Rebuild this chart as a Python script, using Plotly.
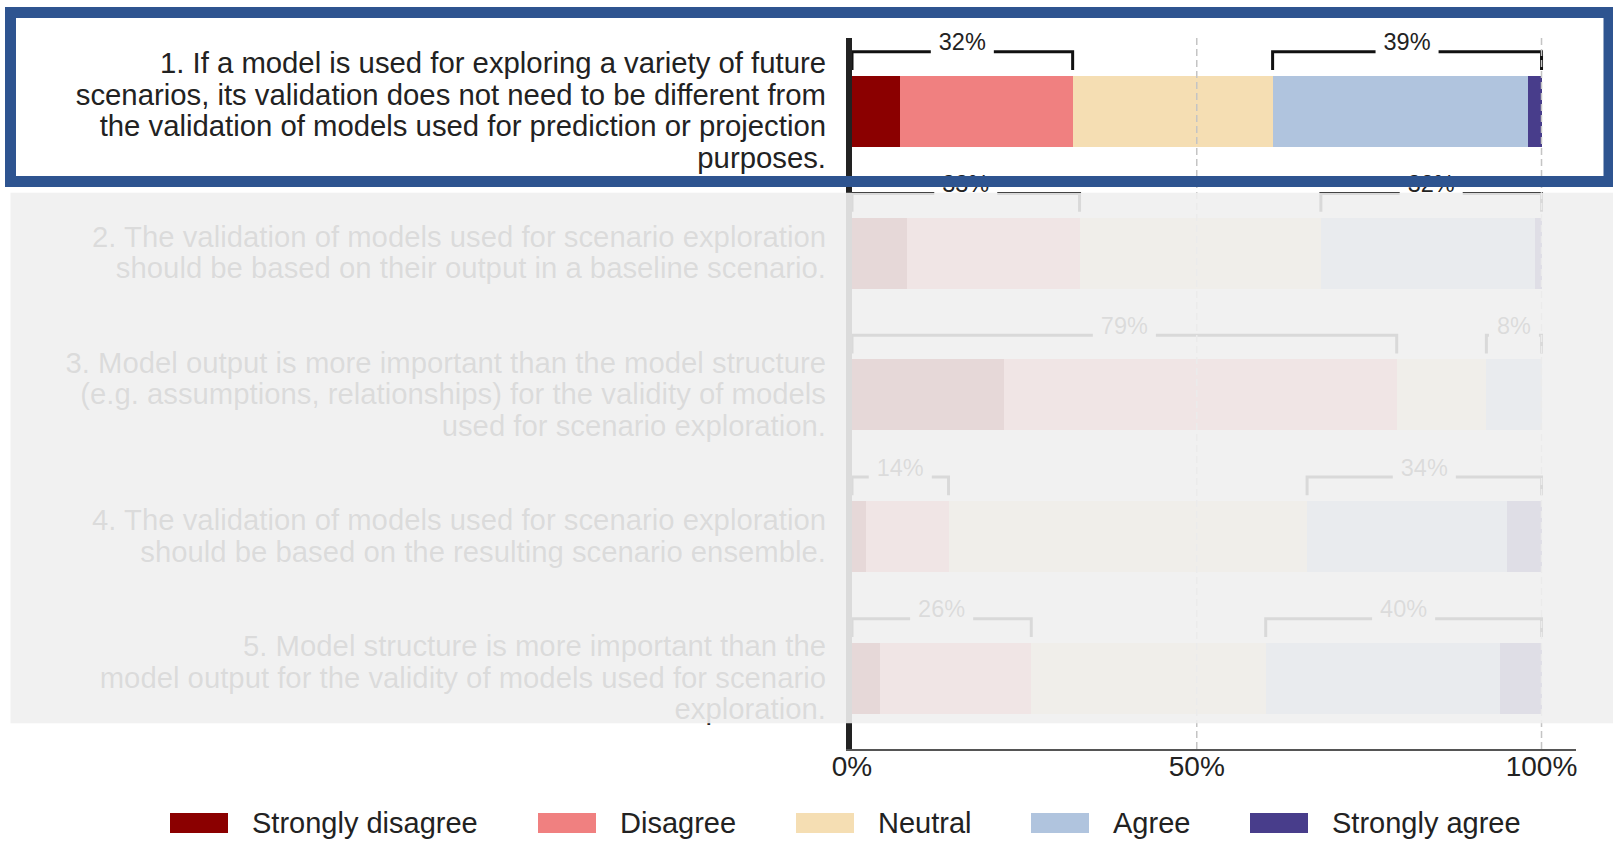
import plotly.graph_objects as go

# ---------------- data ----------------
statements = [
    ["1. If a model is used for exploring a variety of future",
     "scenarios, its validation does not need to be different from",
     "the validation of models used for prediction or projection",
     "purposes."],
    ["2. The validation of models used for scenario exploration",
     "should be based on their output in a baseline scenario."],
    ["3. Model output is more important than the model structure",
     "(e.g. assumptions, relationships) for the validity of models",
     "used for scenario exploration."],
    ["4. The validation of models used for scenario exploration",
     "should be based on the resulting scenario ensemble."],
    ["5. Model structure is more important than the",
     "model output for the validity of models used for scenario",
     "exploration."],
]
categories = ["Strongly disagree", "Disagree", "Neutral", "Agree", "Strongly agree"]
strongly_disagree = [7, 8, 22, 2, 4]
disagree = [25, 25, 57, 12, 22]
neutral = [29, 35, 13, 52, 34]
agree = [37, 31, 8, 29, 34]
strongly_agree = [2, 1, 0, 5, 6]
tick_vals = [0, 50, 100]
tick_text = ["0%", "50%", "100%"]

series = [strongly_disagree, disagree, neutral, agree, strongly_agree]
colors = ["#8b0000", "#f08080", "#f5deb3", "#b0c4de", "#483d8b"]

# ---------------- geometry (pixels of the 1613x841 page) ----------------
W, H = 1613, 841
AX0, PR, PT, PB = 852, 1576, 38, 749   # bar axis starts at AX0; plot area spans 0..PR
X_MAX = 105.0
Y_TOP, Y_BOT = -0.518, 4.498
FONT = "Liberation Sans, Arial, sans-serif"
TXT = "#222222"


def px_x(px):
    return px / PR


def px_y(py):
    return (PB - py) / (PB - PT)


px_per_unit = (PR - AX0) / X_MAX
px_per_row = (PB - PT) / (Y_BOT - Y_TOP)

fig = go.Figure()
rows = list(range(len(statements)))

# stacked bars
for name, vals, col in zip(categories, series, colors):
    fig.add_trace(go.Bar(
        x=vals, y=rows, orientation="h", name=name, width=0.5,
        marker=dict(color=col, line=dict(width=0)),
        showlegend=False, hoverinfo="skip"))

# statement labels (on a helper x axis spanning the left area), one point per line
line_step = 31.5 / px_per_row
lab_x, lab_y, lab_t = [], [], []
for i, lines in enumerate(statements):
    n = len(lines)
    for j, t in enumerate(lines):
        lab_x.append(826)
        lab_y.append(i + 0.014 + (j - (n - 1) / 2) * line_step)
        lab_t.append(t)
fig.add_trace(go.Scatter(
    x=lab_x, y=lab_y, text=lab_t, mode="text", textposition="middle left",
    textfont=dict(family=FONT, size=29.3, color=TXT), xaxis="x2", yaxis="y",
    cliponaxis=False, showlegend=False, hoverinfo="skip"))

# brackets for disagree / agree totals
BR_LINE, BR_TICK, BR_LABEL = -0.421, -0.292, -0.472
BR_FONT = 23.5
bx, by, tx, ty, tt = [], [], [], [], []
for i in rows:
    dis = strongly_disagree[i] + disagree[i]
    agr = agree[i] + strongly_agree[i]
    for x0, x1, v in [(0, dis, dis), (100 - agr, 100, agr)]:
        label = f"{v}%"
        wpx = (0.556 * (len(label) - 1) + 0.889) * BR_FONT
        half = (wpx / 2 + 8) / px_per_unit
        c = (x0 + x1) / 2
        gl, gr = c - half, c + half
        yl, yt = i + BR_LINE, i + BR_TICK
        bx += [x0, x0, max(gl, x0), None]
        by += [yt, yl, yl, None]
        bx += [min(gr, x1), x1, x1, None]
        by += [yl, yl, yt, None]
        tx.append(c)
        ty.append(i + BR_LABEL)
        tt.append(label)
fig.add_trace(go.Scatter(
    x=bx, y=by, mode="lines", line=dict(color="#111111", width=3),
    cliponaxis=False, showlegend=False, hoverinfo="skip"))
fig.add_trace(go.Scatter(
    x=tx, y=ty, text=tt, mode="text", textposition="middle center",
    textfont=dict(family=FONT, size=BR_FONT, color=TXT),
    cliponaxis=False, showlegend=False, hoverinfo="skip"))

shapes = []
# dashed grid lines drawn over the bars
for v in tick_vals[1:]:
    shapes.append(dict(type="line", xref="x", yref="paper", x0=v, x1=v, y0=0, y1=1,
                       line=dict(color="#c4c4c4", width=1.5, dash="7px,4px"), layer="above"))
# faded overlay on statements 2-5
shapes.append(dict(type="rect", xref="paper", yref="paper",
                   x0=px_x(10.5), x1=px_x(W + 5), y0=px_y(723.3), y1=px_y(192.8),
                   fillcolor="rgba(240,240,240,0.9)", line=dict(width=0), layer="above"))
# highlight frame around statement 1
shapes.append(dict(type="rect", xref="paper", yref="paper",
                   x0=px_x(10.5), x1=px_x(1609), y0=px_y(181.5), y1=px_y(12.5),
                   fillcolor="rgba(0,0,0,0)", line=dict(color="#2e5490", width=11), layer="above"))

# custom legend
legend_left = [170, 538, 796, 1031, 1250]
annotations = []
for name, col, lx in zip(categories, colors, legend_left):
    shapes.append(dict(type="rect", xref="paper", yref="paper",
                       x0=px_x(lx), x1=px_x(lx + 58), y0=px_y(833), y1=px_y(813),
                       fillcolor=col, line=dict(width=0)))
    annotations.append(dict(xref="paper", yref="paper", x=px_x(lx + 80), y=px_y(823),
                            text=name, showarrow=False, xanchor="left", yanchor="middle",
                            font=dict(family=FONT, size=29, color=TXT)))

fig.update_layout(
    width=W, height=H,
    margin=dict(l=0, r=W - PR, t=PT, b=H - PB, pad=0, autoexpand=False),
    barmode="stack", bargap=0,
    paper_bgcolor="white", plot_bgcolor="white",
    showlegend=False,
    shapes=shapes, annotations=annotations,
    font=dict(family=FONT, color=TXT),
    xaxis=dict(domain=[AX0 / PR, 1], range=[0, X_MAX], tickvals=tick_vals,
               ticktext=tick_text, showgrid=False, zeroline=False, showline=True,
               linecolor="#555555", linewidth=2, ticks="", ticklabelstandoff=-9,
               automargin=False,
               tickfont=dict(family=FONT, size=28, color=TXT), fixedrange=True),
    xaxis2=dict(domain=[0, AX0 / PR], range=[0, AX0], visible=False, anchor="y",
                automargin=False, fixedrange=True),
    yaxis=dict(range=[Y_BOT, Y_TOP], showticklabels=False, showgrid=False,
               zeroline=False, showline=True, linecolor="#222222", linewidth=6,
               ticks="", fixedrange=True, anchor="x", automargin=False),
)

fig.write_html("out.html", config={"displayModeBar": False},
               post_script="document.body.style.margin='0';")
